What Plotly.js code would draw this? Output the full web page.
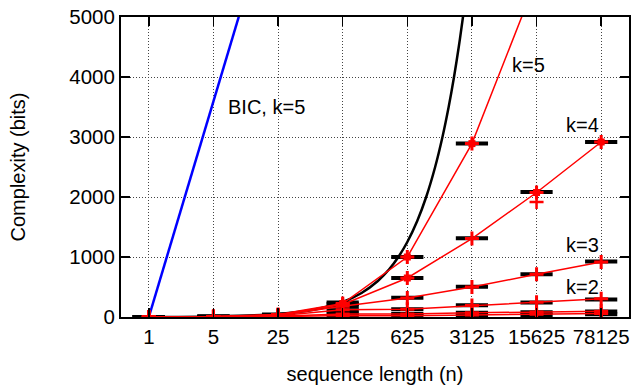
<!DOCTYPE html>
<html>
<head>
<meta charset="utf-8">
<script src="https://cdn.plot.ly/plotly-3.0.1.min.js"></script>
<style>html,body{margin:0;padding:0;background:#fff;}#chart{width:634px;height:386px;}</style>
</head>
<body>
<div id="chart"></div>
<script>
// sequence lengths (n)
const nVals = [1, 5, 25, 125, 625, 3125, 15625, 78125];
const tickLabels = ["1", "5", "25", "125", "625", "3125", "15625", "78125"];

// red model-complexity curves (bits)
const k5 = [0, 8, 40, 225, 1000, 2890, 5630];
const k4 = [0, 6, 35, 210, 650, 1307, 2075, 2917];
const k3 = [0, 5, 30, 180, 317, 500, 712, 917];
const k2 = [0, 4, 22, 120, 128, 190, 245, 305];
const k1 = [0, 3, 12, 50, 50, 70, 85, 95];
const k0 = [0, 2, 6, 25, 20, 35, 45, 60];

// black horizontal bars (measured values)
const barK5 = [0, 8, 40, 240, 1000, 2890];
const barK4 = [0, 6, 35, 215, 650, 1312, 2083, 2917];
const barK3 = [0, 5, 30, 170, 322, 505, 712, 925];
const barK2 = [0, 4, 22, 110, 128, 195, 240, 290];
const barK1 = [0, 3, 12, 60, 50, 70, 80, 90];
const barK0 = [0, 2, 6, 20, 20, 25, 35, 45];

// extra red points
const extraN = [15625];
const extraY = [1917];
const blobN = [125, 625, 625, 3125, 15625, 78125];
const blobY = [225, 1000, 650, 2890, 2075, 2917];

// black curve (bits)
const blackN = [1, 5, 25, 60, 125, 200, 300, 400, 500, 625, 800, 1000, 1250, 1500, 1750, 2000, 2250, 2500, 2750];
const blackY = [2, 10, 50, 120, 250, 400, 600, 800, 1000, 1250, 1600, 2000, 2500, 3000, 3500, 4000, 4500, 5000, 5500];

// BIC, k=5 (blue)
const bicN = [1, 5, 25];
const bicY = [0, 3600, 7190];

const traces = [];
traces.push({x: bicN, y: bicY, mode: 'lines', line: {color: '#0000ff', width: 2.5}, hoverinfo: 'skip'});
traces.push({x: blackN, y: blackY, mode: 'lines', line: {color: '#000000', width: 2.5, shape: 'spline'}, hoverinfo: 'skip'});

const bars = [barK5, barK4, barK3, barK2, barK1, barK0];
bars.forEach(b => {
  traces.push({x: nVals.slice(0, b.length), y: b, mode: 'markers',
    marker: {symbol: 'line-ew', size: 23, line: {color: '#000', width: 4}}, hoverinfo: 'skip'});
});

const reds = [k5, k4, k3, k2, k1, k0];
reds.forEach(r => {
  traces.push({x: nVals.slice(0, r.length), y: r, mode: 'lines+markers',
    line: {color: '#ff0000', width: 1.5},
    marker: {symbol: 'cross-thin', size: 10, line: {color: '#ff0000', width: 3}}, hoverinfo: 'skip'});
});
traces.push({x: extraN, y: extraY, mode: 'markers',
  marker: {symbol: 'cross-thin', size: 10, line: {color: '#ff0000', width: 2.5}}, hoverinfo: 'skip'});
traces.push({x: blobN, y: blobY, mode: 'markers',
  marker: {symbol: 'square', size: 7, color: '#ff0000', line: {width: 0}}, hoverinfo: 'skip'});

const font = {family: 'Liberation Sans, Arial, sans-serif', size: 20, color: '#000'};
const tickFont = {family: 'Liberation Sans, Arial, sans-serif', size: 20.5, color: '#000'};

const layout = {
  width: 634, height: 386,
  margin: {l: 121, r: 5, t: 17, b: 69},
  paper_bgcolor: '#fff', plot_bgcolor: '#fff',
  showlegend: false,
  font: font,
  xaxis: {
    type: 'log', range: [Math.log10(0.5), Math.log10(156250)],
    tickvals: nVals, ticktext: tickLabels,
    ticks: 'inside', ticklen: 9, tickwidth: 1.5, tickcolor: '#000',
    showline: true, linecolor: '#000', linewidth: 2, mirror: 'ticks',
    showgrid: true, gridcolor: '#444', gridwidth: 1, griddash: '1px,2px',
    zeroline: false, tickfont: tickFont,
    title: {text: 'sequence length (n)', font: font, standoff: 20}
  },
  yaxis: {
    range: [0, 5000], tickvals: [0, 1000, 2000, 3000, 4000, 5000],
    ticks: 'inside', ticklen: 9, tickwidth: 1.5, tickcolor: '#000',
    showline: true, linecolor: '#000', linewidth: 2, mirror: 'ticks',
    showgrid: true, gridcolor: '#444', gridwidth: 1, griddash: '1px,2px',
    zeroline: false, tickfont: tickFont,
    title: {text: 'Complexity (bits)', font: font, standoff: 38}
  },
  annotations: [
    {x: Math.log10(18.8), y: 3500, text: 'BIC, k=5', showarrow: false, font: font},
    {x: Math.log10(12740), y: 4207, text: 'k=5', showarrow: false, font: font},
    {x: Math.log10(49660), y: 3195, text: 'k=4', showarrow: false, font: font},
    {x: Math.log10(49660), y: 1195, text: 'k=3', showarrow: false, font: font},
    {x: Math.log10(49660), y: 500, text: 'k=2', showarrow: false, font: font}
  ]
};

Plotly.newPlot('chart', traces, layout, {staticPlot: true, displayModeBar: false});
</script>
</body>
</html>
